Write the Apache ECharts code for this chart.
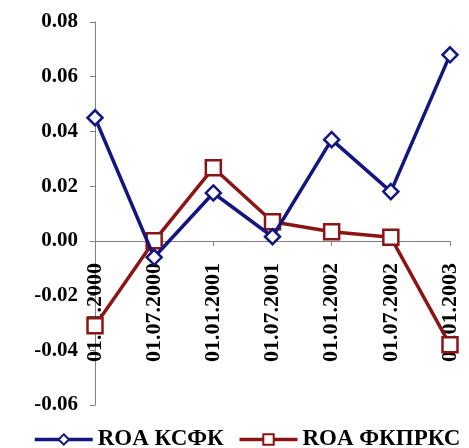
<!DOCTYPE html>
<html><head><meta charset="utf-8">
<script src="https://cdn.jsdelivr.net/npm/echarts@6/dist/echarts.min.js"></script>
<style>html,body{margin:0;padding:0;background:#fff}#c{width:469px;height:448px}</style>
</head><body><div id="c"></div>
<script>
const categories = ['01.01.2000','01.07.2000','01.01.2001','01.07.2001','01.01.2002','01.07.2002','01.01.2003'];
const roaKSFK = [0.045, -0.006, 0.0175, 0.0015, 0.037, 0.018, 0.068];
const roaFKPRKS = [-0.031, 0.000, 0.0267, 0.007, 0.0033, 0.0013, -0.038];
const seriesNames = ['ROA КСФК', 'ROA ФКПРКС'];
const font = '"Liberation Serif", "Times New Roman", serif';
const chart = echarts.init(document.getElementById('c'));
chart.setOption({
  animation: false,
  grid: {left: 95, right: 19, top: 22, bottom: 43, containLabel: false, outerBoundsMode: 'none'},
  xAxis: {
    type: 'category', data: categories, boundaryGap: false, position: 'bottom', offset: -164,
    axisLine: {onZero: false, lineStyle: {color: '#808080', width: 1}},
    axisTick: {show: true, alignWithLabel: true, length: 5, lineStyle: {color: '#808080'}},
    axisLabel: {rotate: 90, fontFamily: font, fontWeight: 'bold', fontSize: 22, color: '#000', margin: 22, interval: 0}
  },
  yAxis: {
    type: 'value', min: -0.06, max: 0.08, interval: 0.02,
    splitLine: {show: false},
    axisLine: {show: true, lineStyle: {color: '#808080', width: 1}},
    axisTick: {show: true, length: 5, lineStyle: {color: '#808080'}},
    axisLabel: {fontFamily: font, fontWeight: 'bold', fontSize: 21, color: '#000', margin: 17,
      formatter: v => v.toFixed(2)}
  },
  legend: {
    top: 428, left: 33, width: 436, padding: 0, itemWidth: 58, itemHeight: 13, itemGap: 14,
    textStyle: {fontFamily: font, fontWeight: 'bold', fontSize: 23, color: '#000'},
    lineStyle: {width: 3.5},
    data: seriesNames
  },
  series: [
    {name: seriesNames[0], type: 'line', data: roaKSFK, symbol: 'diamond', symbolSize: 15,
     lineStyle: {color: '#15157f', width: 3.5}, itemStyle: {color: '#fff', borderColor: '#15157f', borderWidth: 2.5}, color: '#15157f', z: 3},
    {name: seriesNames[1], type: 'line', data: roaFKPRKS, symbol: 'rect', symbolSize: 15,
     lineStyle: {color: '#8b1515', width: 3.5}, itemStyle: {color: '#fff', borderColor: '#8b1515', borderWidth: 2.5}, color: '#8b1515', z: 2}
  ]
});
</script></body></html>
